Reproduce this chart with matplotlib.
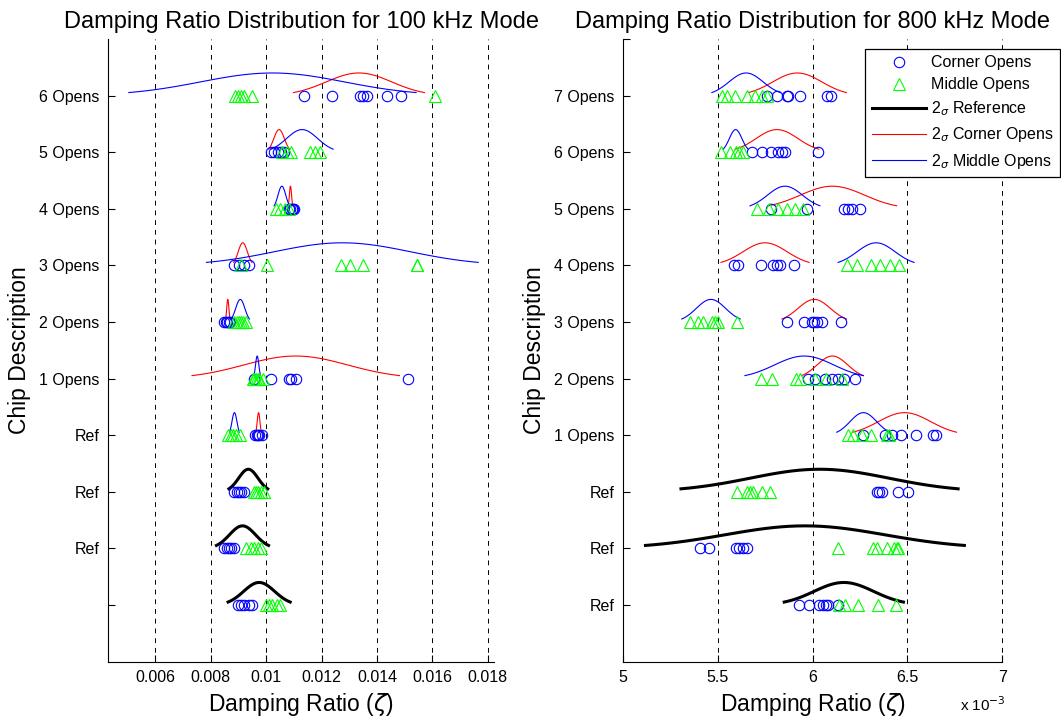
import numpy as np
import matplotlib
matplotlib.use("Agg")
import matplotlib.pyplot as plt
from matplotlib.lines import Line2D

plt.rcParams["font.family"] = ["Liberation Sans", "DejaVu Sans"]
plt.rcParams["mathtext.fontset"] = "dejavusans"

# ---------------------------------------------------------------------------
# 100 kHz mode (rows listed bottom -> top)
# ---------------------------------------------------------------------------
labels_100 = ["", "Ref", "Ref", "Ref", "1 Opens", "2 Opens", "3 Opens",
              "4 Opens", "5 Opens", "6 Opens"]

corner_100 = [
    [0.0090, 0.0091, 0.0092, 0.0094, 0.0095],
    [0.00850, 0.00858, 0.00866, 0.00874, 0.00886],
    [0.00886, 0.00894, 0.00902, 0.00910, 0.00922],
    [0.00960, 0.00966, 0.00970, 0.00976, 0.00984],
    [0.00958, 0.01018, 0.01082, 0.01091, 0.01109, 0.01511],
    [0.00850, 0.00855, 0.00860, 0.00865, 0.00870],
    [0.00886, 0.00904, 0.00922, 0.00938],
    [0.01084, 0.01088, 0.01092, 0.01096, 0.01100],
    [0.01018, 0.01030, 0.01042, 0.01054, 0.01066],
    [0.01135, 0.01236, 0.01337, 0.01351, 0.01363, 0.01437, 0.01487],
]
middle_100 = [
    [0.0100, 0.0101, 0.0102, 0.0104, 0.0105],
    [0.00926, 0.00946, 0.00958, 0.00970, 0.00982],
    [0.00955, 0.00964, 0.00970, 0.00982, 0.00994],
    [0.00862, 0.00872, 0.00880, 0.00892, 0.00907],
    [0.00952, 0.00958, 0.00964, 0.00970, 0.00976, 0.00988],
    [0.00886, 0.00895, 0.00902, 0.00910, 0.00916, 0.00928],
    [0.00910, 0.01005, 0.01271, 0.01301, 0.01349, 0.01544, 0.01546],
    [0.01037, 0.01051, 0.01067, 0.01081],
    [0.01058, 0.01075, 0.01091, 0.01157, 0.01178, 0.01193],
    [0.00889, 0.00900, 0.00910, 0.00920, 0.00950, 0.01611],
]
# (mean, sigma) of the fitted distributions, None where not drawn
ref_fit_100 = [(0.00975, 0.00056), (0.00915, 0.00047), (0.00936, 0.00035),
               None, None, None, None, None, None, None]
corner_fit_100 = [None, None, None, (0.00973, 0.00005), (0.01107, 0.00187),
                  (0.00862, 0.00004), (0.00916, 0.000165), (0.01088, 0.00004),
                  (0.01047, 0.00019), (0.01335, 0.00118)]
middle_fit_100 = [None, None, None, (0.00886, 0.00009), (0.00968, 0.00006),
                  (0.00907, 0.000165), (0.01275, 0.00245), (0.01057, 0.00014),
                  (0.01130, 0.00056), (0.01023, 0.00259)]

xticks_100 = [0.006, 0.008, 0.010, 0.012, 0.014, 0.016, 0.018]
xticklabels_100 = ["0.006", "0.008", "0.01", "0.012", "0.014", "0.016", "0.018"]

# ---------------------------------------------------------------------------
# 800 kHz mode, values in units of 1e-3
# ---------------------------------------------------------------------------
labels_800 = ["Ref", "Ref", "Ref", "1 Opens", "2 Opens", "3 Opens",
              "4 Opens", "5 Opens", "6 Opens", "7 Opens"]

corner_800 = [
    [5.929, 5.983, 6.034, 6.057, 6.070, 6.083, 6.133],
    [5.407, 5.456, 5.597, 5.614, 5.632, 5.653],
    [6.338, 6.350, 6.365, 6.449, 6.505],
    [6.268, 6.382, 6.420, 6.466, 6.545, 6.637, 6.649],
    [5.978, 6.013, 6.066, 6.104, 6.133, 6.168, 6.224],
    [5.867, 5.957, 5.996, 6.010, 6.025, 6.048, 6.150],
    [5.588, 5.609, 5.727, 5.793, 5.811, 5.829, 5.904],
    [5.781, 5.969, 6.168, 6.189, 6.210, 6.250],
    [5.680, 5.732, 5.781, 5.820, 5.838, 5.855, 6.031],
    [5.759, 5.811, 5.864, 5.873, 5.934, 6.078, 6.097],
]
middle_800 = [
    [6.140, 6.171, 6.241, 6.347, 6.438],
    [6.136, 6.320, 6.338, 6.391, 6.431, 6.444, 6.452],
    [5.600, 5.653, 5.671, 5.688, 5.732, 5.776],
    [6.189, 6.215, 6.259, 6.308, 6.391, 6.403],
    [5.727, 5.785, 5.913, 5.934, 6.013, 6.070, 6.154],
    [5.355, 5.398, 5.425, 5.469, 5.486, 5.504, 5.601],
    [6.180, 6.233, 6.308, 6.356, 6.408, 6.456],
    [5.706, 5.771, 5.820, 5.864, 5.908, 5.952],
    [5.518, 5.566, 5.595, 5.613, 5.636],
    [5.522, 5.548, 5.592, 5.653, 5.697, 5.732, 5.759],
]
ref_fit_800 = [(6.165, 0.157), (5.960, 0.420), (6.037, 0.365),
               None, None, None, None, None, None, None]
corner_fit_800 = [None, None, None, (6.485, 0.137), (6.105, 0.081),
                  (6.009, 0.085), (5.750, 0.116), (6.105, 0.169),
                  (5.813, 0.110), (5.920, 0.129)]
middle_fit_800 = [None, None, None, (6.268, 0.070), (5.956, 0.156),
                  (5.465, 0.077), (6.335, 0.100), (5.855, 0.092),
                  (5.595, 0.033), (5.650, 0.090)]

xticks_800 = [5.0, 5.5, 6.0, 6.5, 7.0]
xticklabels_800 = ["5", "5.5", "6", "6.5", "7"]

PEAK = 0.40  # height of the 2-sigma curves in row units


def two_sigma_curve(ax, fit, y0, color, lw):
    mu, sd = fit
    x = np.linspace(mu - 2 * sd, mu + 2 * sd, 41)
    ax.plot(x, y0 + PEAK * np.exp(-0.5 * ((x - mu) / sd) ** 2),
            color=color, lw=lw, zorder=3)


def draw_panel(ax, labels, corner, middle, ref_fit, corner_fit, middle_fit,
               xlim, xticks, xticklabels, title, top_tick=False):
    for i in range(len(labels)):
        y0 = i + 1
        ax.plot(corner[i], [y0] * len(corner[i]), linestyle="none", marker="o",
                ms=7.5, mfc="none", mec=(0, 0, 1), mew=0.8, zorder=4)
        ax.plot(middle[i], [y0] * len(middle[i]), linestyle="none", marker="^",
                ms=8.5, mfc="none", mec=(0, 1, 0), mew=0.8, zorder=4)
        if ref_fit[i] is not None:
            two_sigma_curve(ax, ref_fit[i], y0, "black", 2.2)
        if corner_fit[i] is not None:
            two_sigma_curve(ax, corner_fit[i], y0, (1, 0, 0), 0.8)
        if middle_fit[i] is not None:
            two_sigma_curve(ax, middle_fit[i], y0, (0, 0, 1), 0.8)

    ax.set_xlim(*xlim)
    ax.set_ylim(0, 11)
    ax.set_xticks(xticks)
    ax.set_xticklabels(xticklabels)
    yt = list(range(1, len(labels) + 1))
    ylabs = list(labels)
    if top_tick:
        yt.append(11)
        ylabs.append("")
    ax.set_yticks(yt)
    ax.set_yticklabels(ylabs)
    for x in xticks:
        ax.axvline(x, color="black", lw=0.7, linestyle=(0, (5, 5)), zorder=1,
                   clip_on=False)
    for s in ("top", "right"):
        ax.spines[s].set_visible(False)
    ax.spines["left"].set_linewidth(0.8)
    ax.spines["bottom"].set_linewidth(0.8)
    ax.tick_params(direction="in", length=5, width=0.8, labelsize=11.5,
                   colors="black", pad=6)
    ax.set_xlabel(r"Damping Ratio ($\zeta$)", fontsize=16.5, labelpad=4)
    ax.set_ylabel("Chip Description", fontsize=16.5, labelpad=6)
    ax.set_title(title, fontsize=17, pad=8)


fig = plt.figure(figsize=(10.61, 7.17), dpi=100)
ax1 = fig.add_axes([0.1018, 0.0771, 0.3638, 0.8685])
ax2 = fig.add_axes([0.5869, 0.0771, 0.3578, 0.8685])

draw_panel(ax1, labels_100, corner_100, middle_100, ref_fit_100,
           corner_fit_100, middle_fit_100, (0.0043, 0.01822),
           xticks_100, xticklabels_100,
           "Damping Ratio Distribution for 100 kHz Mode")
draw_panel(ax2, labels_800, corner_800, middle_800, ref_fit_800,
           corner_fit_800, middle_fit_800, (5.0, 7.0),
           xticks_800, xticklabels_800,
           "Damping Ratio Distribution for 800 kHz Mode", top_tick=True)

fig.text(0.905, 0.008, r"x 10$^{-3}$", fontsize=11, va="baseline")

handles = [
    Line2D([], [], linestyle="none", marker="o", ms=7.5, mfc="none",
           mec=(0, 0, 1), mew=0.8),
    Line2D([], [], linestyle="none", marker="^", ms=8.5, mfc="none",
           mec=(0, 1, 0), mew=0.8),
    Line2D([], [], color="black", lw=2.2),
    Line2D([], [], color=(1, 0, 0), lw=0.8),
    Line2D([], [], color=(0, 0, 1), lw=0.8),
]
leg_labels = ["Corner Opens", "Middle Opens", r"2$_\sigma$ Reference",
              r"2$_\sigma$ Corner Opens", r"2$_\sigma$ Middle Opens"]
leg = fig.legend(handles, leg_labels, loc="upper right",
                 bbox_to_anchor=(0.999, 0.932), borderaxespad=0,
                 fontsize=11.5, handlelength=3.4, labelspacing=0.45,
                 borderpad=0.4, handletextpad=0.3, fancybox=False,
                 framealpha=1, edgecolor="black")
leg.get_frame().set_linewidth(0.9)

fig.savefig("out.png", dpi=100)
